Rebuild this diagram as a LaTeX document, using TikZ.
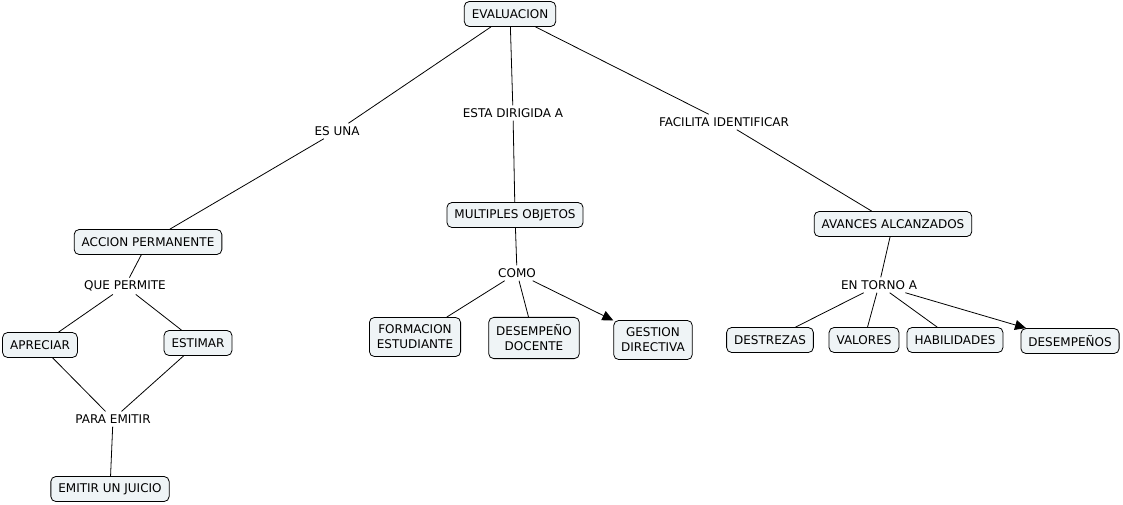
\documentclass[tikz,border=0pt]{standalone}
\usepackage{fontspec}
\setmainfont{DejaVu Sans}
\usepackage{xcolor}
\usepackage{tikz}
\usetikzlibrary{positioning, arrows.meta}
\definecolor{boxfill}{RGB}{239,244,246}

\begin{document}
\begin{tikzpicture}[
			x=1pt, y=-1pt,
			every node/.style={font=\fontsize{12}{15}\selectfont},
			box/.style={rectangle, draw, rounded corners=5pt, fill=boxfill, minimum height=25pt, inner xsep=7.5pt, inner ysep=5pt, align=center, line width=0.8pt},
			tallbox/.style={box, inner ysep=7.5pt},
			lbl/.style={inner sep=3pt, fill=white},
			link/.style={line width=0.8pt},
			arrow/.style={-{Triangle[length=11pt, width=10pt]}, line width=0.8pt}
			]
			\useasboundingbox (0,0) rectangle (1123,504);
			% Top Node
			\node (eval) [box] at (510,14) {EVALUACION};
			\node (esuna) [lbl] at (337,131) {ES UNA};
			\node (dirigida) [lbl] at (513,113) {ESTA DIRIGIDA A};
			\node (facilita) [lbl] at (724,122) {FACILITA IDENTIFICAR};
			
			% Second Level Nodes
			\node (accion) [box] at (148,242) {ACCION PERMANENTE};
			\node (multiples) [box] at (515,215) {MULTIPLES OBJETOS};
			\node (avances) [box] at (893,224) {AVANCES ALCANZADOS};
			
			% Left Branch Nodes
			\node (permite) [lbl] at (125,286) {QUE PERMITE};
			\node (apreciar) [box] at (40,345) {APRECIAR};
			\node (estimar) [box] at (198,343) {ESTIMAR};
			\node (emitir) [lbl] at (113,419) {PARA EMITIR};
			\node (juicio) [box] at (110,489) {EMITIR UN JUICIO};
			
			% Middle Branch Nodes
			\node (como) [lbl] at (517,273) {COMO};
			\node (formacion) [tallbox] at (415,337) {FORMACION\\ESTUDIANTE};
			\node (docente) [tallbox] at (534,338) {DESEMPEÑO\\DOCENTE};
			\node (gestion) [tallbox] at (653,340) {GESTION\\DIRECTIVA};
			
			% Right Branch Nodes
			\node (torno) [lbl] at (879,285) {EN TORNO A};
			\node (destrezas) [box] at (770,340) {DESTREZAS};
			\node (valores) [box] at (864,340) {VALORES};
			\node (habilidades) [box] at (955,340) {HABILIDADES};
			\node (desempenos) [box] at (1070,341) {DESEMPEÑOS};
			
			% Links Top
			\draw [link] (eval) -- (esuna) -- (accion);
			\draw [link] (eval) -- (dirigida) -- (multiples);
			\draw [link] (eval) -- (facilita) -- (avances);
			
			% Links Left
			\draw [link] (accion) -- (permite);
			\draw [link] (permite) -- (apreciar);
			\draw [link] (permite) -- (estimar);
			\draw [link] (apreciar) -- (emitir);
			\draw [link] (estimar) -- (emitir);
			\draw [link] (emitir) -- (juicio);
			
			% Links Middle
			\draw [link] (multiples) -- (como);
			\draw [link] (como) -- (formacion);
			\draw [link] (como) -- (docente);
			\draw [arrow] (como) -- (gestion);
			
			% Links Right
			\draw [link] (avances) -- (torno);
			\draw [link] (torno) -- (destrezas);
			\draw [link] (torno) -- (valores);
			\draw [link] (torno) -- (habilidades);
			\draw [arrow] (torno) -- (desempenos);
		\end{tikzpicture}
\end{document}
